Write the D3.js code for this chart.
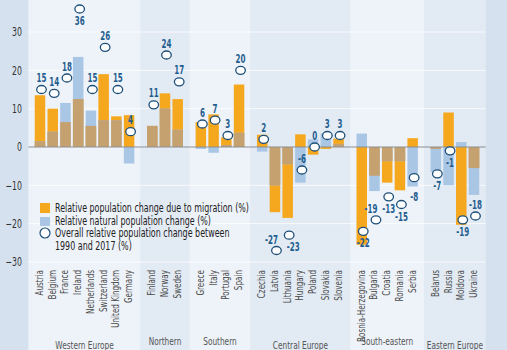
<!DOCTYPE html>
<html lang="en">

<head>
    <meta charset="UTF-8">
    <title>Population change 1990-2017</title>
    <script src="https://d3js.org/d3.v7.min.js"></script>
    <style>
        body { margin: 0; background: #d5e1ee; }
        svg { display: block; font-family: "DejaVu Sans Condensed", "DejaVu Sans", sans-serif; }
    </style>
</head>

<body>
    <script>
        // data
        var groupNames = ["Western Europe", "Northern", "Southern", "Central Europe", "South-eastern", "Eastern Europe"];
        var countries = ["Austria", "Belgium", "France", "Ireland", "Netherlands", "Switzerland", "United Kingdom", "Germany",
            "Finland", "Norway", "Sweden",
            "Greece", "Italy", "Portugal", "Spain",
            "Czechia", "Latvia", "Lithuania", "Hungary", "Poland", "Slovakia", "Slovenia",
            "Bosnia-Herzegovina", "Bulgaria", "Croatia", "Romania", "Serbia",
            "Belarus", "Russia", "Moldova", "Ukraine"];
        var countryGroup = [0, 0, 0, 0, 0, 0, 0, 0, 1, 1, 1, 2, 2, 2, 2, 3, 3, 3, 3, 3, 3, 3, 4, 4, 4, 4, 4, 5, 5, 5, 5];
        var migration = [13.5, 10, 6.5, 12.5, 5.5, 19, 8, 8.3, 5.5, 14, 12.5, 6.5, 8.5, 2.5, 16.3,
            3.2, -17, -18.5, 3.3, -2, -0.5, 2.2, -25.5, -7.5, -9.3, -11.3, 2.3, -0.5, 9, -20.3, -5.5];
        var natural = [1.5, 4, 11.5, 23.5, 9.5, 7, 7, -4.3, 5.5, 10, 4.5, -0.5, -1.5, 0.5, 3.7,
            -1.2, -10, -4.5, -9.3, 2, 3.5, 0.8, 3.5, -11.5, -3.7, -3.7, -10.3, -6.5, -10, 1.3, -12.5];
        var overall = [15, 14, 18, 36, 15, 26, 15, 4, 11, 24, 17, 6, 7, 3, 20,
            2, -27, -23, -6, 0, 3, 3, -22, -19, -13, -15, -8, -7, -1, -19, -18];
        var yTicks = [30, 20, 10, 0, -10, -20, -30];
        var legendItems = ["Relative population change due to migration (%)", "Relative natural population change (%)",
            "Overall relative population change between", "1990 and 2017 (%)"];

        // where each value label sits relative to its circle
        var labelSide = ["up", "up", "up", "down", "up", "up", "up", "up", "up", "up", "up", "up", "up", "up", "up",
            "up", "upleft", "downright", "up", "up", "up", "up", "down", "upleft", "down", "down", "downfar",
            "down", "down", "down", "up"];

        var width = 507, height = 350;
        var gapSlots = 0.82;

        // the reference uses a narrow face, so squeeze the text horizontally
        function squeeze(sel, f) {
            sel.each(function () {
                var len = this.getComputedTextLength();
                d3.select(this).attr("textLength", len * f).attr("lengthAdjust", "spacingAndGlyphs");
            });
        }

        var svg = d3.select("body")
            .append("svg")
            .attr("width", width)
            .attr("height", height);

        var rows = countries.map(function (c, i) {
            return { name: c, g: countryGroup[i], pos: i + countryGroup[i] * gapSlots, m: migration[i], n: natural[i], o: overall[i], side: labelSide[i] };
        });

        var x = d3.scaleLinear()
            .domain([0, countries.length - 1 + (groupNames.length - 1) * gapSlots])
            .range([40, 474]);
        var slot = x(1) - x(0);
        var half = (1 + gapSlots) / 2 * slot;

        var y = d3.scaleLinear()
            .domain([-30, 30])
            .range([262, 32]);

        // group background bands
        var bands = groupNames.map(function (g, gi) {
            var r = rows.filter(function (d) { return d.g === gi; });
            return { name: g, i: gi, x0: x(r[0].pos) - half, x1: x(r[r.length - 1].pos) + half };
        });

        svg.selectAll(".band")
            .data(bands)
            .enter().append("rect")
            .attr("x", d => d.x0)
            .attr("y", 0)
            .attr("width", d => d.x1 - d.x0)
            .attr("height", height)
            .attr("fill", d => d.i % 2 === 0 ? "#eef3f9" : "#e2eaf4");

        // grid lines
        svg.selectAll(".grid")
            .data(yTicks.filter(t => t !== 0))
            .enter().append("line")
            .attr("x1", bands[0].x0)
            .attr("x2", bands[bands.length - 1].x1)
            .attr("y1", d => y(d))
            .attr("y2", d => y(d))
            .attr("stroke", "#ffffff")
            .attr("stroke-width", 1)
            .attr("opacity", 0.8);

        // y axis labels
        var yAxis = d3.axisLeft(y).tickValues(yTicks).tickSize(0).tickPadding(0);
        var ax = svg.append("g")
            .attr("transform", "translate(22,0)")
            .call(yAxis);
        ax.select(".domain").remove();
        ax.selectAll("text")
            .attr("font-family", "'DejaVu Sans Condensed', 'DejaVu Sans', sans-serif")
            .attr("font-size", 12)
            .attr("fill", "#333")
            .call(squeeze, 0.72);

        var bw = 10.5;

        // migration bars
        svg.selectAll(".mig")
            .data(rows)
            .enter().append("rect")
            .attr("x", d => x(d.pos) - bw / 2)
            .attr("y", d => y(Math.max(0, d.m)))
            .attr("width", bw)
            .attr("height", d => Math.abs(y(d.m) - y(0)))
            .attr("fill", "#f5a81e");

        // natural change bars
        svg.selectAll(".nat")
            .data(rows)
            .enter().append("rect")
            .attr("x", d => x(d.pos) - bw / 2)
            .attr("y", d => y(Math.max(0, d.n)))
            .attr("width", bw)
            .attr("height", d => Math.abs(y(d.n) - y(0)))
            .attr("fill", "#a9c6e4");

        // where both bars overlap
        svg.selectAll(".both")
            .data(rows.filter(d => d.m * d.n > 0))
            .enter().append("rect")
            .attr("x", d => x(d.pos) - bw / 2)
            .attr("y", function (d) {
                var v = Math.sign(d.m) * Math.min(Math.abs(d.m), Math.abs(d.n));
                return y(Math.max(0, v));
            })
            .attr("width", bw)
            .attr("height", d => Math.abs(y(Math.min(Math.abs(d.m), Math.abs(d.n))) - y(0)))
            .attr("fill", "#c6a170");

        // zero line
        svg.append("line")
            .attr("x1", bands[0].x0)
            .attr("x2", bands[bands.length - 1].x1)
            .attr("y1", y(0))
            .attr("y2", y(0))
            .attr("stroke", "#8d8d8d")
            .attr("stroke-width", 1.2);

        // overall change circles
        svg.selectAll(".dot")
            .data(rows)
            .enter().append("ellipse")
            .attr("cx", d => x(d.pos) + 1.5)
            .attr("cy", d => y(d.o))
            .attr("rx", 4.8)
            .attr("ry", 4)
            .attr("fill", "#ffffff")
            .attr("stroke", "#1e4f78")
            .attr("stroke-width", 1.3);

        var off = {
            up: [0, -7.5], down: [0, 16], downfar: [0, 23], upleft: [-5, -7], downright: [4, 16]
        };

        svg.selectAll(".val")
            .data(rows)
            .enter().append("text")
            .attr("x", d => x(d.pos) + 1.5 + off[d.side][0])
            .attr("y", d => y(d.o) + off[d.side][1])
            .attr("text-anchor", "middle")
            .attr("font-size", 12)
            .attr("font-weight", "bold")
            .attr("fill", "#1f5d8e")
            .text(d => d.o)
            .call(squeeze, 0.66);

        // country labels
        svg.selectAll(".cname")
            .data(rows)
            .enter().append("text")
            .attr("transform", d => "translate(" + (x(d.pos) + 3) + ",270) rotate(-90)")
            .attr("text-anchor", "end")
            .attr("font-size", 10)
            .attr("fill", "#4a4a4a")
            .text(d => d.name)
            .call(squeeze, 0.8);

        // group labels
        svg.selectAll(".gname")
            .data(bands)
            .enter().append("text")
            .attr("x", d => (d.x0 + d.x1) / 2)
            .attr("y", d => d.name.indexOf("Europe") > 0 ? 349 : 345)
            .attr("text-anchor", "middle")
            .attr("font-size", 10.5)
            .attr("fill", "#555")
            .text(d => d.name)
            .call(squeeze, 0.78);

        // legend
        var lg = svg.append("g").attr("transform", "translate(40,200)");
        lg.append("rect").attr("x", 0).attr("y", 3).attr("width", 10).attr("height", 10).attr("fill", "#f5a81e");
        lg.append("rect").attr("x", 0).attr("y", 17).attr("width", 10).attr("height", 9).attr("fill", "#a9c6e4");
        lg.append("circle").attr("cx", 5).attr("cy", 33).attr("r", 5).attr("fill", "#ffffff")
            .attr("stroke", "#1e4f78").attr("stroke-width", 1.2);
        lg.selectAll(".ltxt")
            .data(legendItems)
            .enter().append("text")
            .attr("x", 15)
            .attr("y", (d, i) => 12 + i * 12.7)
            .attr("font-size", 13)
            .attr("fill", "#222")
            .text(d => d)
            .call(squeeze, 0.68);
    </script>
</body>

</html>
